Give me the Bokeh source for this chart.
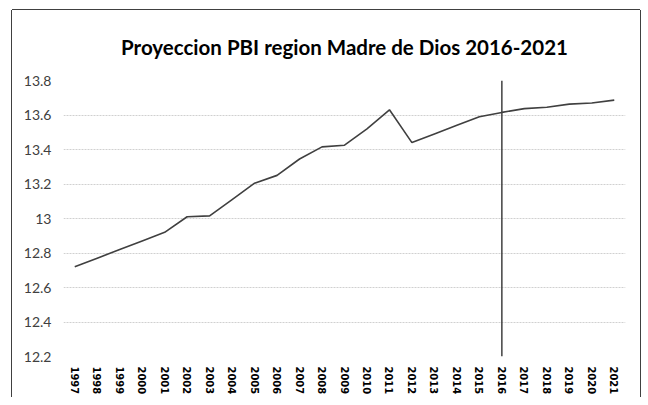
from bokeh.plotting import figure
from bokeh.models import FixedTicker, ColumnDataSource, FactorRange, Range1d
from bokeh.embed import file_html
from bokeh.resources import INLINE

# ---- data ----
years = ["1997", "1998", "1999", "2000", "2001", "2002", "2003", "2004", "2005",
         "2006", "2007", "2008", "2009", "2010", "2011", "2012", "2013", "2014",
         "2015", "2016", "2017", "2018", "2019", "2020", "2021"]
pbi = [12.72, 12.77, 12.82, 12.87, 12.92, 13.01, 13.015, 13.11, 13.205,
       13.25, 13.345, 13.415, 13.425, 13.52, 13.63, 13.44, 13.49, 13.54,
       13.59, 13.615, 13.637, 13.645, 13.663, 13.67, 13.686]
y_ticks = [12.2, 12.4, 12.6, 12.8, 13.0, 13.2, 13.4, 13.6, 13.8]
y_tick_labels = ["12.2", "12.4", "12.6", "12.8", "13", "13.2", "13.4", "13.6", "13.8"]
projection_start = "2016"
title_text = "Proyeccion PBI region Madre de Dios 2016-2021"

p = figure(
    width=628, height=387,
    x_range=FactorRange(*years, range_padding=0),
    y_range=Range1d(y_ticks[0], y_ticks[-1]),
    output_backend="svg", toolbar_location=None,
    min_border_left=51, min_border_right=15, min_border_top=70, min_border_bottom=41,
    title=title_text,
)
p.styles = {
    "transform": "translate(12px, 10px)",
    "box-shadow": "-1px 0 0 0 #404040, 1px 0 0 0 #404040, 0 -1px 0 0 #404040",
}

p.title.align = "center"
p.title.text_font = "Lato"
p.title.text_font_style = "bold"
p.title.text_font_size = "20.5px"
p.title.text_color = "#000000"
p.title.standoff = 44

p.outline_line_color = None
p.background_fill_color = "white"
p.border_fill_color = "white"

src = ColumnDataSource(dict(year=years, pbi=pbi))
p.line("year", "pbi", source=src, line_color="#404040", line_width=1.6)

p.segment(x0=[projection_start], x1=[projection_start],
          y0=[y_ticks[0]], y1=[y_ticks[-1]], line_color="#404040", line_width=1.5)

# axes
p.yaxis.ticker = FixedTicker(ticks=y_ticks)
p.yaxis.major_label_overrides = {t: l for t, l in zip(y_ticks, y_tick_labels)}
p.yaxis.axis_line_color = None
p.yaxis.major_tick_line_color = None
p.yaxis.minor_tick_line_color = None
p.yaxis.major_tick_out = 0
p.yaxis.major_tick_in = 0
p.yaxis.minor_tick_out = 0
p.yaxis.major_label_standoff = 12
p.yaxis.major_label_text_font = "Lato"
p.yaxis.major_label_text_font_size = "14px"
p.yaxis.major_label_text_color = "#404040"

p.xaxis.axis_line_color = None
p.xaxis.major_tick_line_color = None
p.xaxis.minor_tick_line_color = None
p.xaxis.major_tick_out = 0
p.xaxis.major_tick_in = 0
p.xaxis.minor_tick_out = 0
p.xaxis.major_label_orientation = "vertical"
p.xaxis.major_label_standoff = 10
p.xaxis.major_label_text_font = "DejaVu Sans Condensed"
p.xaxis.major_label_text_font_style = "bold"
p.xaxis.major_label_text_font_size = "11px"
p.xaxis.major_label_text_color = "#000000"

p.xgrid.grid_line_color = None
p.ygrid.grid_line_color = "#d0d0d0"
p.ygrid.grid_line_dash = "2 1"
p.ygrid.grid_line_width = 1

open("out.html", "w").write(file_html(p, INLINE))
